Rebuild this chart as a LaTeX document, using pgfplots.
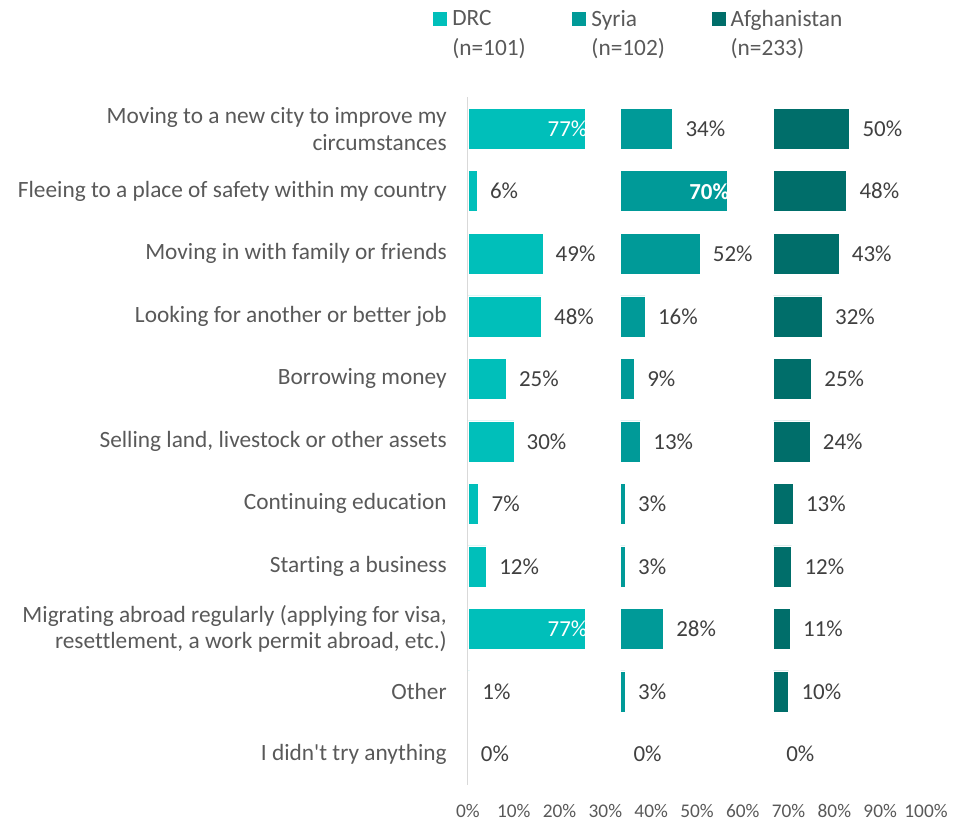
\documentclass[border=0pt]{standalone}
\usepackage{pgfplots}
\pgfplotsset{compat=1.18}
\usepackage{pgfplotstable}
\usepackage{fontspec}
\setmainfont{Carlito}[Ligatures={TeX,NoCommon}]
\definecolor{cDRC}{HTML}{00BFBA}
\definecolor{cSyr}{HTML}{009A98}
\definecolor{cAfg}{HTML}{006E6A}
\definecolor{txt}{HTML}{595959}
\definecolor{lbl}{HTML}{404040}

\pgfplotstableread{
idx DRC Syr Afg
0 77 34 50
1 6 70 48
2 49 52 43
3 48 16 32
4 25 9 25
5 30 13 24
6 7 3 13
7 12 3 12
8 77 28 11
9 1 3 10
10 0 0 0
}\datatable

\pgfplotsset{
  base/.style={scale only axis, width=343.5pt, height=515.85pt,
    xmin=0, xmax=100, ymin=-0.5, ymax=10.5, y dir=reverse,
    at={(351pt,26.8pt)}, anchor=south west},
  outlab/.style={draw=none, mark=none, point meta=explicit symbolic,
    nodes near coords={\pgfplotspointmeta\%},
    every node near coord/.style={anchor=west, inner sep=0pt, xshift=9.5pt, text=lbl, font=\fontsize{17.2}{20}\selectfont}},
  inlab/.style={draw=none, mark=none, point meta=explicit symbolic,
    nodes near coords={\pgfplotspointmeta\%},
    every node near coord/.style={anchor=east, inner sep=0pt, xshift=1.5pt, text=white, font=\fontsize{17.2}{20}\selectfont#1}},
}

\begin{document}
\begin{tikzpicture}
\useasboundingbox (0,0) rectangle (728.25pt,615.75pt);
\begin{axis}[base,
  xbar stacked, bar width=30.75pt, axis on top,
  axis lines*=left,
  x axis line style={draw=none},
  y axis line style={draw=black!15, line width=0.75pt},
  major tick length=0pt,
  xtick={0,10,...,100},
  xticklabels={0\%,10\%,20\%,30\%,40\%,50\%,60\%,70\%,80\%,90\%,100\%},
  xticklabel style={font=\fontsize{14.5}{16}\selectfont, text=txt, inner sep=0pt, anchor=north, yshift=-14.3pt},
  ytick={0,...,10},
  yticklabels={{Moving to a new city to improve my\\circumstances},
    {Fleeing to a place of safety within my country},
    {Moving in with family or friends},
    {Looking for another or better job},
    {Borrowing money},
    {Selling land, livestock or other assets},
    {Continuing education},
    {Starting a business},
    {Migrating abroad regularly (applying for visa,\\resettlement, a work permit abroad, etc.)},
    {Other},
    {I didn\textquotesingle t try anything}},
  yticklabel style={align=right, font=\fontsize{17.5}{20}\selectfont, text=txt, inner sep=0pt, anchor=east, xshift=-15.75pt},
  legend columns=3,
  legend cell align=left,
  legend image code/.code={\fill[#1, draw=none] (0pt,-5.25pt) rectangle (10.5pt,5.25pt);},
  legend style={at={(axis description cs:-0.0764,1.1272)}, anchor=north west,
    draw=none, fill=none, inner sep=0pt, text=txt,
    font=\fontsize{17.5}{20}\selectfont,
    /tikz/every odd column/.append style={column sep=3.75pt},
    /tikz/every even column/.append style={column sep=35pt},
    row sep=7.5pt, nodes={inner sep=0pt}},
]
\addplot[fill=cDRC, draw=white, line width=0.4pt] table[x expr=\thisrow{DRC}/3, y=idx] {\datatable};
\addlegendentry{DRC}
\addplot[fill=none, draw=none, forget plot] table[x expr=100/3-\thisrow{DRC}/3, y=idx] {\datatable};
\addplot[fill=cSyr, draw=white, line width=0.4pt] table[x expr=\thisrow{Syr}/3, y=idx] {\datatable};
\addlegendentry{Syria}
\addplot[fill=none, draw=none, forget plot] table[x expr=100/3-\thisrow{Syr}/3, y=idx] {\datatable};
\addplot[fill=cAfg, draw=white, line width=0.4pt] table[x expr=\thisrow{Afg}/3, y=idx] {\datatable};
\addlegendentry{Afghanistan}
\addlegendimage{empty legend}\addlegendentry{(n=101)}
\addlegendimage{empty legend}\addlegendentry{(n=102)}
\addlegendimage{empty legend}\addlegendentry{(n=233)}
\end{axis}
\begin{axis}[base, hide axis, clip=false]
\addplot[outlab, restrict x to domain=0:20] table[x expr=\thisrow{DRC}/3, y=idx, meta=DRC] {\datatable};
\addplot[inlab=, restrict x to domain=20:33] table[x expr=\thisrow{DRC}/3, y=idx, meta=DRC] {\datatable};
\addplot[outlab, restrict x to domain=33:53.3] table[x expr=100/3+\thisrow{Syr}/3, y=idx, meta=Syr] {\datatable};
\addplot[inlab=\bfseries, restrict x to domain=53.3:67] table[x expr=100/3+\thisrow{Syr}/3, y=idx, meta=Syr] {\datatable};
\addplot[outlab] table[x expr=200/3+\thisrow{Afg}/3, y=idx, meta=Afg] {\datatable};
\end{axis}
\end{tikzpicture}
\end{document}
